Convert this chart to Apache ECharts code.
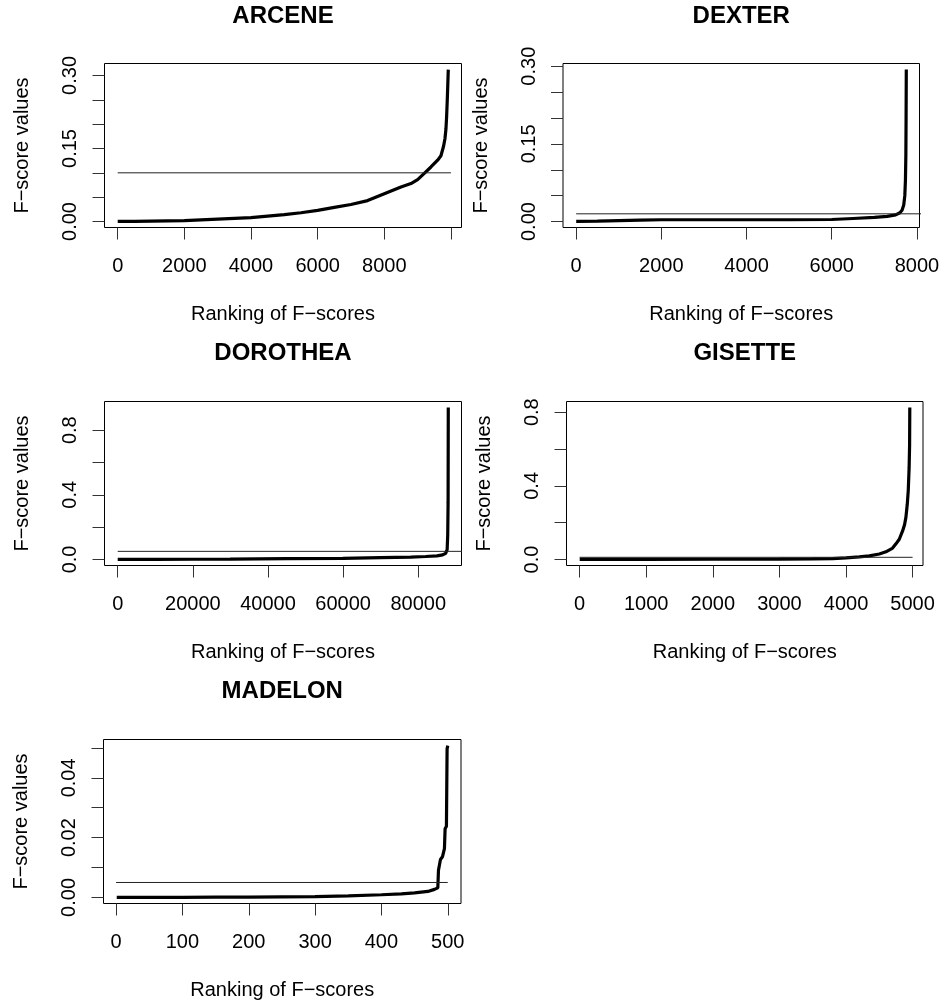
<!DOCTYPE html>
<html><head><meta charset="utf-8">
<script src="https://cdn.jsdelivr.net/npm/echarts@6/dist/echarts.min.js"></script>
<style>html,body{margin:0;padding:0;background:#fff}#c{width:943px;height:1003px}</style>
</head><body><div id="c"></div>
<script>
// ---------- DATA ----------
const titles = ['ARCENE', 'DEXTER', 'DOROTHEA', 'GISETTE', 'MADELON'];
const xAxisTitle = 'Ranking of F\u2212scores';
const yAxisTitle = 'F\u2212score values';

// sorted F-scores (rank, value)
const arceneRank = [1, 500, 1000, 1500, 2000, 2500, 3000, 3500, 4000, 4500, 5000, 5500, 6000, 6500, 7000, 7500, 8000, 8500, 8800, 9000, 9200, 9400, 9600, 9700, 9780, 9820, 9850, 9870, 9890, 9905, 9920];
const arceneF    = [0.0002, 0.0005, 0.001, 0.0015, 0.002, 0.0035, 0.005, 0.0065, 0.008, 0.011, 0.014, 0.018, 0.023, 0.029, 0.035, 0.043, 0.057, 0.071, 0.078, 0.086, 0.099, 0.112, 0.126, 0.135, 0.155, 0.170, 0.19, 0.215, 0.25, 0.28, 0.312];

const dexterRank = [1, 500, 1000, 1500, 2000, 3000, 4000, 5000, 6000, 6500, 7000, 7300, 7500, 7600, 7650, 7690, 7715, 7730, 7740, 7745, 7750];
const dexterF    = [0.0003, 0.001, 0.002, 0.003, 0.0035, 0.0035, 0.0035, 0.0035, 0.004, 0.006, 0.008, 0.010, 0.013, 0.017, 0.022, 0.032, 0.05, 0.08, 0.13, 0.2, 0.2935];

const dorotheaRank = [1, 10000, 20000, 29900, 30100, 45000, 59900, 60100, 70000, 78000, 82000, 85000, 86500, 87300, 87700, 87850, 87950, 88000];
const dorotheaF    = [0.0, 0.0005, 0.001, 0.0015, 0.004, 0.005, 0.006, 0.009, 0.011, 0.014, 0.018, 0.022, 0.028, 0.038, 0.06, 0.15, 0.35, 0.94];

const gisetteRank = [1, 500, 1000, 2000, 3000, 3500, 3800, 4000, 4200, 4350, 4500, 4600, 4700, 4750, 4800, 4850, 4880, 4900, 4920, 4935, 4948, 4955, 4958];
const gisetteF    = [0.0005, 0.001, 0.001, 0.0015, 0.002, 0.003, 0.005, 0.009, 0.014, 0.02, 0.03, 0.042, 0.062, 0.085, 0.11, 0.155, 0.19, 0.23, 0.3, 0.375, 0.5, 0.62, 0.825];

const madelonRank = [1, 50, 100, 150, 200, 250, 300, 350, 400, 430, 450, 470, 480, 485, 486, 489, 492, 495, 496, 497, 498, 499, 500];
const madelonF    = [0.0, 0.00002, 0.00005, 0.00008, 0.0001, 0.0002, 0.0003, 0.0005, 0.0009, 0.0012, 0.0015, 0.002, 0.0027, 0.0032, 0.0091, 0.0127, 0.0136, 0.0163, 0.023, 0.0236, 0.0238, 0.0497, 0.0508];

// threshold lines (value, drawn from rank 0 to number of features)
const thresholdValue = [0.1, 0.015, 0.05, 0.012, 0.005];
const featureCount   = [10000, 20000, 100000, 5000, 500];

// ticks and tick labels
const xTicks = [
  [0, 2000, 4000, 6000, 8000, 10000],
  [0, 2000, 4000, 6000, 8000],
  [0, 20000, 40000, 60000, 80000],
  [0, 1000, 2000, 3000, 4000, 5000],
  [0, 100, 200, 300, 400, 500]
];
const xLabelValues = [
  [0, 2000, 4000, 6000, 8000],
  [0, 2000, 4000, 6000, 8000],
  [0, 20000, 40000, 60000, 80000],
  [0, 1000, 2000, 3000, 4000, 5000],
  [0, 100, 200, 300, 400, 500]
];
const yTicks = [
  [0, 0.05, 0.10, 0.15, 0.20, 0.25, 0.30],
  [0, 0.05, 0.10, 0.15, 0.20, 0.25, 0.30],
  [0, 0.2, 0.4, 0.6, 0.8],
  [0, 0.2, 0.4, 0.6, 0.8],
  [0, 0.01, 0.02, 0.03, 0.04, 0.05]
];
const yLabelValues = [
  [0, 0.15, 0.30],
  [0, 0.15, 0.30],
  [0, 0.4, 0.8],
  [0, 0.4, 0.8],
  [0, 0.02, 0.04]
];
const yLabelTexts = [
  ['0.00', '0.15', '0.30'],
  ['0.00', '0.15', '0.30'],
  ['0.0', '0.4', '0.8'],
  ['0.0', '0.4', '0.8'],
  ['0.00', '0.02', '0.04']
];

const ranks  = [arceneRank, dexterRank, dorotheaRank, gisetteRank, madelonRank];
const fvals  = [arceneF, dexterF, dorotheaF, gisetteF, madelonF];

// ---------- LAYOUT ----------
const grids = [
  {left: 104.5, top: 63.5, width: 357, height: 164},
  {left: 563, top: 63.5, width: 356.5, height: 164},
  {left: 104.5, top: 401.5, width: 357, height: 164},
  {left: 566.5, top: 401.5, width: 356.5, height: 164},
  {left: 103.5, top: 739.5, width: 357.5, height: 164}
];
const titleY = [16, 16, 353, 353, 691];

const FONT = 'Liberation Sans, Arial, Helvetica, sans-serif';

function extRange(arr) {
  const lo = Math.min.apply(null, arr), hi = Math.max.apply(null, arr);
  const d = (hi - lo) * 0.04;
  return [lo - d, hi + d];
}

const option = {
  animation: false,
  grid: [], xAxis: [], yAxis: [], series: [], graphic: []
};

for (let i = 0; i < 5; i++) {
  const g = grids[i];
  option.grid.push(Object.assign({
    show: true, borderColor: '#000', borderWidth: 1, backgroundColor: 'transparent', containLabel: false
  }, g));
  const xr = extRange(ranks[i]);
  const yr = extRange(fvals[i]);
  const xl = xLabelValues[i];
  option.xAxis.push({
    type: 'value', gridIndex: i, min: xr[0], max: xr[1], position: 'bottom',
    axisLine: {show: false, onZero: false},
    splitLine: {show: false},
    axisTick: {show: true, inside: false, length: 12, customValues: xTicks[i], lineStyle: {color: '#333', width: 1}},
    axisLabel: {show: true, customValues: xl, margin: 29, fontSize: 20, color: '#000', fontFamily: FONT,
      formatter: v => String(v)},
    name: xAxisTitle, nameLocation: 'middle', nameGap: 77,
    nameTextStyle: {fontSize: 20, color: '#000', fontFamily: FONT}
  });
  const yv = yLabelValues[i], yt = yLabelTexts[i];
  option.yAxis.push({
    type: 'value', gridIndex: i, min: yr[0], max: yr[1], position: 'left',
    axisLine: {show: false, onZero: false},
    splitLine: {show: false},
    axisTick: {show: true, inside: false, length: 12, customValues: yTicks[i], lineStyle: {color: '#333', width: 1}},
    axisLabel: {show: true, customValues: yv, rotate: 90, margin: 24, fontSize: 20, color: '#000', fontFamily: FONT,
      formatter: v => {
        for (let k = 0; k < yv.length; k++) if (Math.abs(yv[k] - v) < 1e-9) return yt[k];
        return '';
      }},
    name: yAxisTitle, nameLocation: 'middle', nameGap: 72, nameRotate: 90,
    nameTextStyle: {fontSize: 20, color: '#000', fontFamily: FONT}
  });
  option.series.push({
    type: 'line', xAxisIndex: i, yAxisIndex: i,
    data: ranks[i].map((r, k) => [r, fvals[i][k]]),
    showSymbol: false, symbol: 'none', clip: true,
    lineStyle: {color: '#000', width: 3.2}, silent: true
  });
  option.series.push({
    type: 'line', xAxisIndex: i, yAxisIndex: i,
    data: [[0, thresholdValue[i]], [featureCount[i], thresholdValue[i]]],
    showSymbol: false, symbol: 'none', clip: true,
    lineStyle: {color: '#222', width: 1}, silent: true
  });
  option.graphic.push({
    type: 'text', x: g.left + g.width / 2, y: titleY[i],
    style: {text: titles[i], font: 'bold 24px ' + FONT, textAlign: 'center', textVerticalAlign: 'middle', fill: '#000'}
  });
}

const chart = echarts.init(document.getElementById('c'), null, {renderer: 'canvas'});
chart.setOption(option);
</script>
</body></html>
